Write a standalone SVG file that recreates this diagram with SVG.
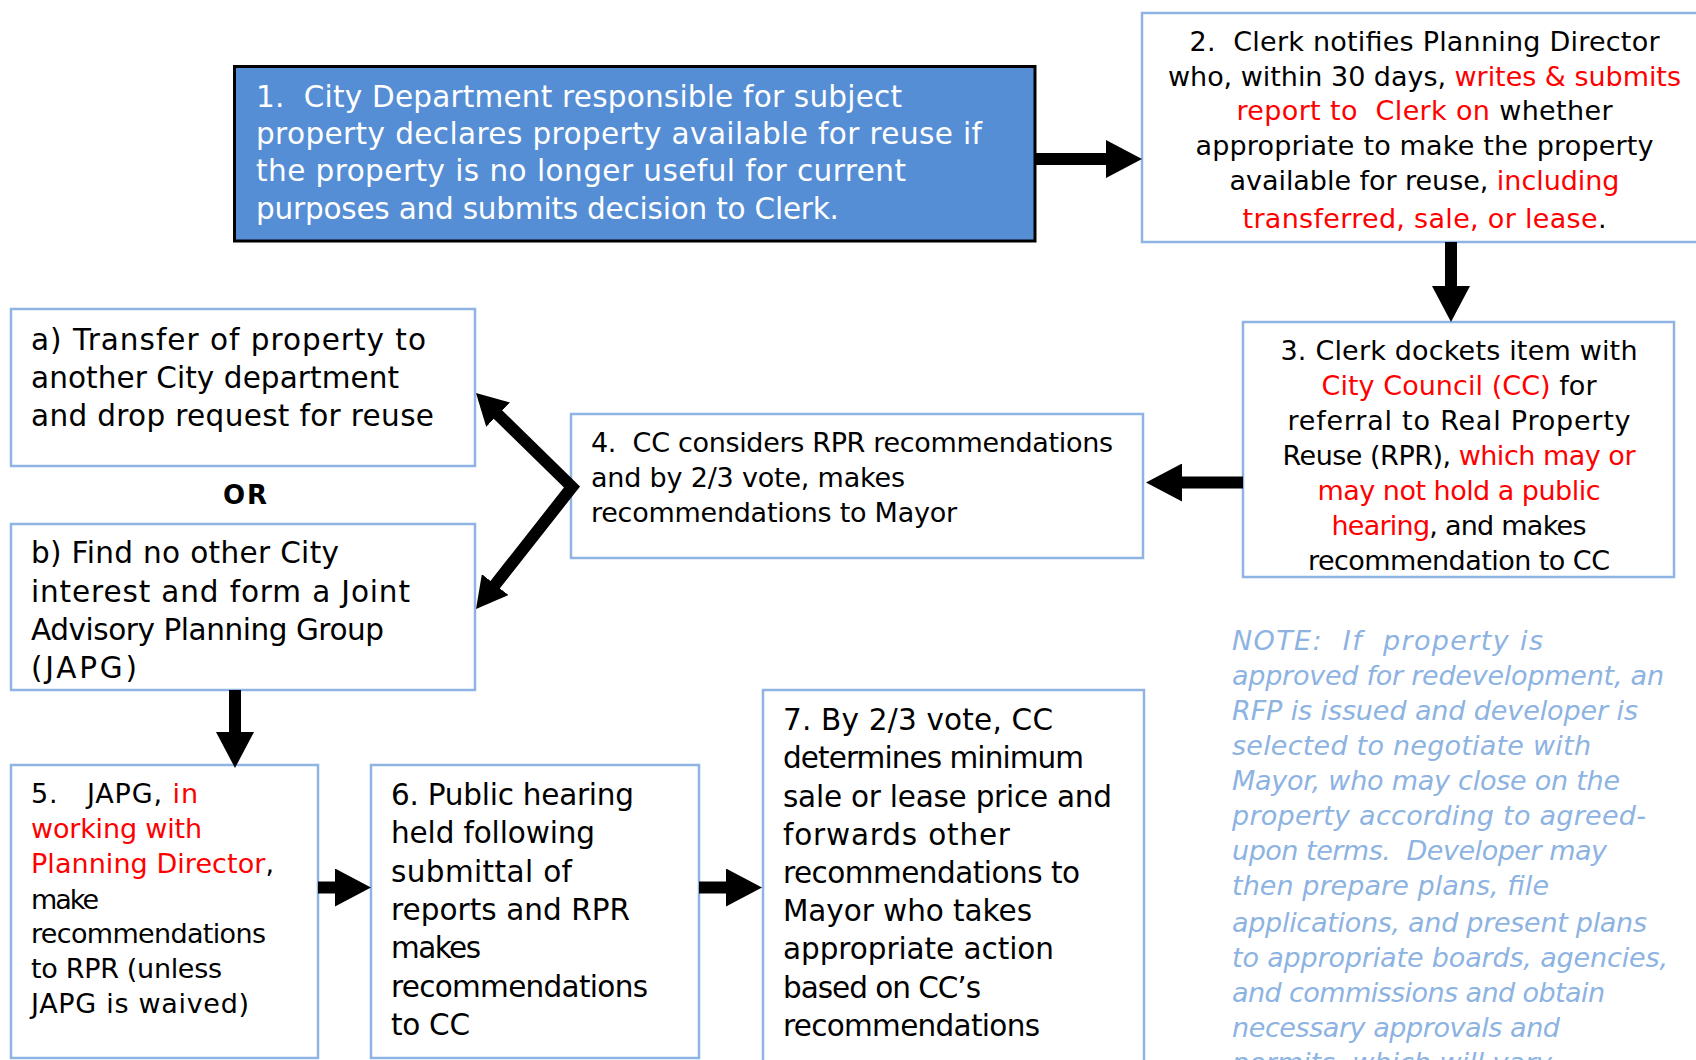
<svg xmlns="http://www.w3.org/2000/svg" width="1696" height="1060" viewBox="0 0 1696 1060">
<style>
text{font-family:"DejaVu Sans","Open Sans",sans-serif;white-space:pre;fill:#000}
.a{font-size:27px}
.b{font-size:29.5px}
.w{fill:#fff}
.r{fill:#ff0000}
.c{text-anchor:middle}
.box{fill:#fff;stroke:#8eb4e3;stroke-width:2.5}
.note{font-style:italic;fill:#8db3e2;font-size:27px}
.conn{fill:none;stroke:#000;stroke-width:12;stroke-linejoin:miter;stroke-miterlimit:10}
</style>
<defs>
<marker id="ah" markerUnits="userSpaceOnUse" markerWidth="36" markerHeight="38" viewBox="0 0 36 38" refX="1" refY="19" orient="auto"><path d="M0,0 L36,19 L0,38 z" fill="#000"/></marker>
<marker id="ahd" markerUnits="userSpaceOnUse" markerWidth="31" markerHeight="34" viewBox="0 0 31 34" refX="1" refY="17" orient="auto-start-reverse"><path d="M0,0 L31,17 L0,34 z" fill="#000"/></marker>
</defs>
<rect width="1696" height="1060" fill="#fff"/>

<g id="node1">
<rect x="234.5" y="66.5" width="800.5" height="174.5" fill="#558ed5" stroke="#000" stroke-width="3"/>
<text class="b w" x="256" y="107" textLength="646">1.  City Department responsible for subject</text>
<text class="b w" x="256" y="144" textLength="726">property declares property available for reuse if</text>
<text class="b w" x="256" y="181" textLength="650">the property is no longer useful for current</text>
<text class="b w" x="256" y="219" textLength="583">purposes and submits decision to Clerk.</text>
</g>

<g id="node2">
<rect class="box" x="1142" y="13" width="570" height="229"/>
<text class="a c" x="1424.5" y="51" textLength="470">2.  Clerk notifies Planning Director</text>
<text class="a c" x="1424.5" y="86" textLength="513">who, within 30 days, <tspan class="r">writes &amp; submits</tspan></text>
<text class="a c" x="1424.5" y="120" textLength="376"><tspan class="r">report to  Clerk on</tspan> whether</text>
<text class="a c" x="1424.5" y="155" textLength="458">appropriate to make the property</text>
<text class="a c" x="1424.5" y="190" textLength="390">available for reuse, <tspan class="r">including</tspan></text>
<text class="a c" x="1424.5" y="228" textLength="364"><tspan class="r">transferred, sale, or lease</tspan>.</text>
</g>

<g id="node3">
<rect class="box" x="1243" y="322" width="431" height="255"/>
<text class="a c" x="1459" y="360" textLength="357">3. Clerk dockets item with</text>
<text class="a c" x="1459" y="395" textLength="275"><tspan class="r">City Council (CC)</tspan> for</text>
<text class="a c" x="1459" y="430" textLength="343">referral to Real Property</text>
<text class="a c" x="1459" y="465" textLength="353">Reuse (RPR), <tspan class="r">which may or</tspan></text>
<text class="a c r" x="1459" y="500" textLength="283">may not hold a public</text>
<text class="a c" x="1459" y="535" textLength="255"><tspan class="r">hearing</tspan>, and makes</text>
<text class="a c" x="1459" y="570" textLength="302">recommendation to CC</text>
</g>

<g id="node4">
<rect class="box" x="571" y="414" width="572" height="144"/>
<text class="a" x="591" y="452" textLength="522">4.  CC considers RPR recommendations</text>
<text class="a" x="591" y="487" textLength="314">and by 2/3 vote, makes</text>
<text class="a" x="591" y="522" textLength="366">recommendations to Mayor</text>
</g>

<g id="nodeA">
<rect class="box" x="11" y="309" width="464" height="157"/>
<text class="b" x="31" y="350" textLength="395">a) Transfer of property to</text>
<text class="b" x="31" y="388" textLength="368">another City department</text>
<text class="b" x="31" y="426" textLength="403">and drop request for reuse</text>
</g>

<g id="or">
<text x="245" y="504" text-anchor="middle" font-size="26" font-weight="bold" textLength="44">OR</text>
</g>

<g id="nodeB">
<rect class="box" x="11" y="524" width="464" height="166"/>
<text class="b" x="31" y="563" textLength="308">b) Find no other City</text>
<text class="b" x="31" y="602" textLength="379">interest and form a Joint</text>
<text class="b" x="31" y="640" textLength="353">Advisory Planning Group</text>
<text class="b" x="31" y="678" textLength="106">(JAPG)</text>
</g>

<g id="node5">
<rect class="box" x="11" y="765" width="307" height="293"/>
<text class="a" x="31" y="803" textLength="167">5.   JAPG, <tspan class="r">in</tspan></text>
<text class="a r" x="31" y="838" textLength="171">working with</text>
<text class="a" x="31" y="873" textLength="243"><tspan class="r">Planning Director</tspan>,</text>
<text class="a" x="31" y="909" textLength="68">make</text>
<text class="a" x="31" y="943" textLength="235">recommendations</text>
<text class="a" x="31" y="978" textLength="191">to RPR (unless</text>
<text class="a" x="31" y="1013" textLength="218">JAPG is waived)</text>
</g>

<g id="node6">
<rect class="box" x="371" y="765" width="328" height="293"/>
<text class="b" x="391" y="805" textLength="243">6. Public hearing</text>
<text class="b" x="391" y="843" textLength="204">held following</text>
<text class="b" x="391" y="882" textLength="181">submittal of</text>
<text class="b" x="391" y="920" textLength="239">reports and RPR</text>
<text class="b" x="391" y="958" textLength="90">makes</text>
<text class="b" x="391" y="997" textLength="257">recommendations</text>
<text class="b" x="391" y="1035" textLength="79">to CC</text>
</g>

<g id="node7">
<rect class="box" x="763" y="690" width="381" height="385"/>
<text class="b" x="783" y="730" textLength="270">7. By 2/3 vote, CC</text>
<text class="b" x="783" y="768" textLength="301">determines minimum</text>
<text class="b" x="783" y="807" textLength="329">sale or lease price and</text>
<text class="b" x="783" y="845" textLength="227">forwards other</text>
<text class="b" x="783" y="883" textLength="297">recommendations to</text>
<text class="b" x="783" y="921" textLength="249">Mayor who takes</text>
<text class="b" x="783" y="959" textLength="271">appropriate action</text>
<text class="b" x="783" y="998" textLength="198">based on CC’s</text>
<text class="b" x="783" y="1036" textLength="257">recommendations</text>
</g>

<g id="noteText">
<text class="note" x="1232" y="650" textLength="311">NOTE:  If  property is</text>
<text class="note" x="1232" y="685" textLength="432">approved for redevelopment, an</text>
<text class="note" x="1232" y="720" textLength="406">RFP is issued and developer is</text>
<text class="note" x="1232" y="755" textLength="359">selected to negotiate with</text>
<text class="note" x="1232" y="790" textLength="388">Mayor, who may close on the</text>
<text class="note" x="1232" y="825" textLength="414">property according to agreed-</text>
<text class="note" x="1232" y="860" textLength="375">upon terms.  Developer may</text>
<text class="note" x="1232" y="895" textLength="317">then prepare plans, file</text>
<text class="note" x="1232" y="932" textLength="415">applications, and present plans</text>
<text class="note" x="1232" y="967" textLength="436">to appropriate boards, agencies,</text>
<text class="note" x="1232" y="1002" textLength="373">and commissions and obtain</text>
<text class="note" x="1232" y="1037" textLength="328">necessary approvals and</text>
<text class="note" x="1232" y="1072" textLength="320">permits, which will vary</text>
</g>

<g id="connectors">
<path class="conn" d="M1035,159 H1107" marker-end="url(#ah)"/>
<path class="conn" d="M1451,242 V287" marker-end="url(#ah)"/>
<path class="conn" d="M1243,482.5 H1181" marker-end="url(#ah)"/>
<path class="conn" d="M497.4,414 L572,487 L494.6,585.4" marker-start="url(#ahd)" marker-end="url(#ahd)"/>
<path class="conn" d="M235,690 V733" marker-end="url(#ah)"/>
<path class="conn" d="M318,887.5 H336" marker-end="url(#ah)"/>
<path class="conn" d="M699,887.5 H727" marker-end="url(#ah)"/>
</g>
</svg>
